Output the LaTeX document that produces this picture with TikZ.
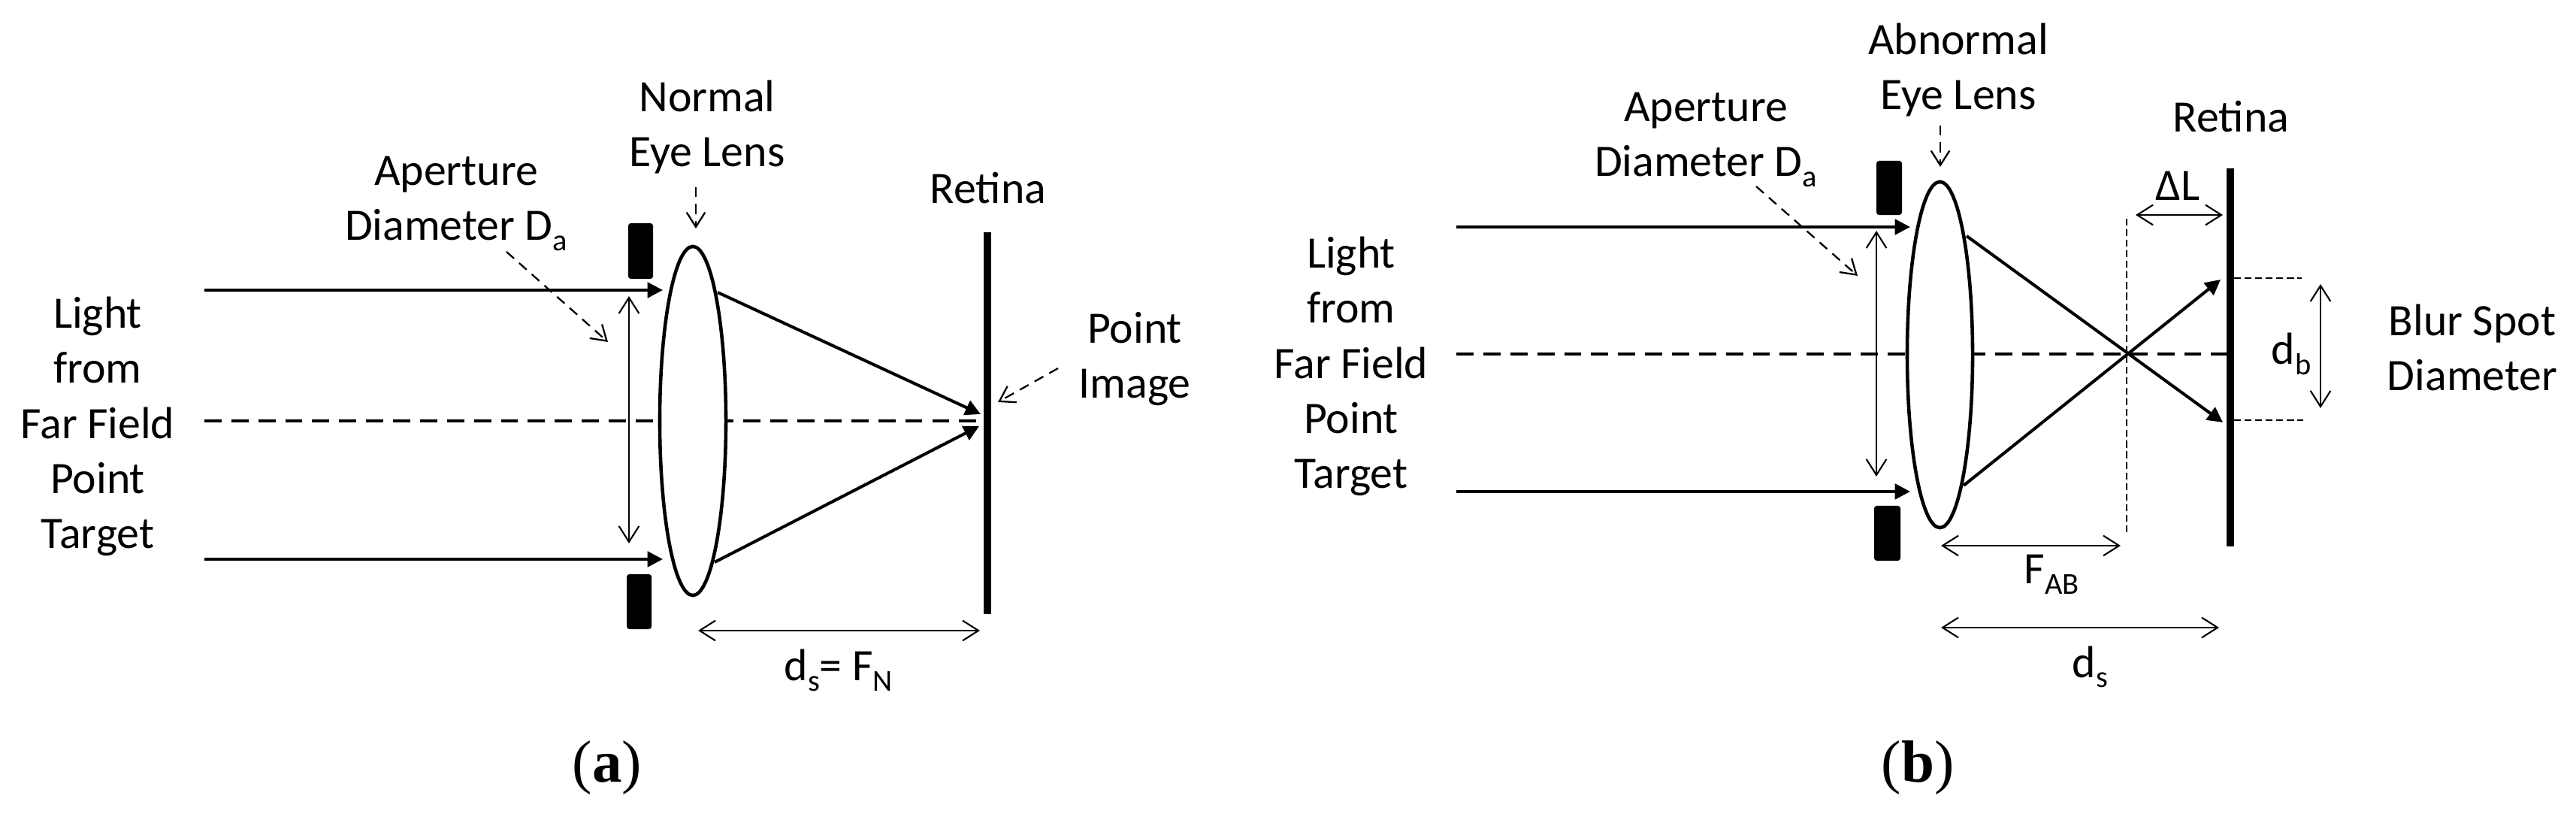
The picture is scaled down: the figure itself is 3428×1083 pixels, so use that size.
\documentclass[tikz,border=0pt]{standalone}
\usepackage{fontspec}
\setmainfont{Carlito}
\newfontfamily\capfont{Liberation Serif}
\usetikzlibrary{arrows.meta,shapes.geometric}
\newcommand\lsub[1]{\raisebox{-0.22em}{\fontsize{11.5pt}{12pt}\selectfont #1}}
\begin{document}
\begin{tikzpicture}[x=0.01cm,y=-0.01cm,
  lbl/.style={font=\fontsize{17pt}{20.9pt}\selectfont, inner sep=0pt, align=center},
  caplbl/.style={font=\capfont\fontsize{22.5pt}{26pt}\selectfont, inner sep=0pt},
  ray/.style={line width=1.15pt, -{Triangle[length=5.8pt,width=5.8pt]}},
  dim/.style={line width=0.6pt, {Straight Barb[length=6pt,width=7.6pt]}-{Straight Barb[length=6pt,width=7.6pt]}},
  pointer/.style={line width=0.65pt, dash pattern=on 3.8pt off 2.6pt, -{Straight Barb[length=5.5pt,width=7pt]}},
  axis/.style={line width=1pt, dash pattern=on 6.5pt off 3.7pt},
  guide/.style={line width=0.6pt, dash pattern=on 2.6pt off 1.4pt},
  retina/.style={line width=2.6pt},
  stopbox/.style={fill=black, rounded corners=1pt, inner sep=0pt},
  lens/.style={draw, ellipse, fill=white, line width=1.3pt, inner sep=0pt},
]
\useasboundingbox (0,0) rectangle (3428,1083);

% ================= (a) =================
\coordinate (aAxL) at (272,560);
\coordinate (aAxR) at (1310,560);
\draw[axis] (aAxL) -- (aAxR);
\node[lens, minimum width=0.88cm, minimum height=4.64cm] (aLens) at (922,560) {};
\coordinate (aRetT) at (1314,309);
\coordinate (aRetB) at (1314,817);
\draw[retina] (aRetT) -- (aRetB);
\node[stopbox, minimum width=0.33cm, minimum height=0.74cm] (aStopT) at (852.5,334) {};
\node[stopbox, minimum width=0.33cm, minimum height=0.73cm] (aStopB) at (850.5,800.5) {};
% incoming rays
\coordinate (aInT) at (272,386);  \coordinate (aHitT) at (882,386);
\coordinate (aInB) at (272,744);  \coordinate (aHitB) at (882,744);
\draw[ray] (aInT) -- (aHitT);
\draw[ray] (aInB) -- (aHitB);
% refracted rays
\coordinate (aOutT) at (955,389);  \coordinate (aFocT) at (1305,551);
\coordinate (aOutB) at (951,748);  \coordinate (aFocB) at (1303,567);
\draw[ray] (aOutT) -- (aFocT);
\draw[ray] (aOutB) -- (aFocB);
% dimensions
\coordinate (aDaT) at (837,394); \coordinate (aDaB) at (837,723);
\draw[dim] (aDaT) -- (aDaB);
\coordinate (aDsL) at (929,839); \coordinate (aDsR) at (1304,839);
\draw[dim] (aDsL) -- (aDsR);
% pointers
\coordinate (aP1s) at (674,335); \coordinate (aP1e) at (809,455);
\draw[pointer] (aP1s) -- (aP1e);
\coordinate (aP2s) at (926,249); \coordinate (aP2e) at (926,304);
\draw[pointer] (aP2s) -- (aP2e);
\coordinate (aP3s) at (1408,490); \coordinate (aP3e) at (1328,535);
\draw[pointer] (aP3s) -- (aP3e);
% texts (anchor=base = baseline of last line)
\node[lbl, anchor=base] (aLight) at (130,730) {Light\\from\\Far Field\\Point\\Target};
\node[lbl, anchor=base] (aLensLbl) at (941,222) {Normal\\Eye Lens};
\node[lbl, anchor=base] (aApLbl) at (607,320) {Aperture\\Diameter D\lsub{a}};
\node[lbl, anchor=base] (aRetLbl) at (1315,271) {Retina};
\node[lbl, anchor=base] (aPtLbl) at (1510,530) {Point\\Image};
\node[lbl, anchor=base west] (aDsLbl) at (1043,906) {d\lsub{s}= F\lsub{N}};
\node[caplbl, anchor=base] (aCap) at (808,1040) {(\textbf{a})};

% ================= (b) =================
\coordinate (bAxL) at (1938,471);
\coordinate (bAxR) at (2964,471);
\draw[axis] (bAxL) -- (bAxR);
\coordinate (bGdT) at (2830,291); \coordinate (bGdB) at (2830,712);
\draw[guide] (bGdT) -- (bGdB);
\node[lens, minimum width=0.87cm, minimum height=4.60cm] (bLens) at (2581.5,472) {};
\coordinate (bRetT) at (2968,224);
\coordinate (bRetB) at (2968,727);
\draw[retina] (bRetT) -- (bRetB);
\node[stopbox, minimum width=0.34cm, minimum height=0.72cm] (bStopT) at (2514,250) {};
\node[stopbox, minimum width=0.35cm, minimum height=0.73cm] (bStopB) at (2511.5,709.5) {};
% incoming rays
\coordinate (bInT) at (1938,302);  \coordinate (bHitT) at (2542,302);
\coordinate (bInB) at (1938,654);  \coordinate (bHitB) at (2542,654);
\draw[ray] (bInT) -- (bHitT);
\draw[ray] (bInB) -- (bHitB);
% refracted rays crossing before retina
\coordinate (bOutT) at (2617,314);  \coordinate (bEndT) at (2958,562);
\coordinate (bOutB) at (2613,646);  \coordinate (bEndB) at (2955,372);
\draw[ray] (bOutT) -- (bEndT);
\draw[ray] (bOutB) -- (bEndB);
% blur spot guides
\coordinate (bSpT1) at (2973,370); \coordinate (bSpT2) at (3063,370);
\coordinate (bSpB1) at (2973,559); \coordinate (bSpB2) at (3065,559);
\draw[guide] (bSpT1) -- (bSpT2);
\draw[guide] (bSpB1) -- (bSpB2);
% dimensions
\coordinate (bDaT) at (2497,307); \coordinate (bDaB) at (2497,634);
\draw[dim] (bDaT) -- (bDaB);
\coordinate (bDLl) at (2842,286); \coordinate (bDLr) at (2958,286);
\draw[dim] (bDLl) -- (bDLr);
\coordinate (bDbT) at (3088,378); \coordinate (bDbB) at (3088,543);
\draw[dim] (bDbT) -- (bDbB);
\coordinate (bFL) at (2583,726); \coordinate (bFR) at (2822,726);
\draw[dim] (bFL) -- (bFR);
\coordinate (bDsL) at (2583,835); \coordinate (bDsR) at (2953,835);
\draw[dim] (bDsL) -- (bDsR);
% pointers
\coordinate (bP1s) at (2337,248); \coordinate (bP1e) at (2472,367);
\draw[pointer] (bP1s) -- (bP1e);
\coordinate (bP2s) at (2582,167); \coordinate (bP2e) at (2582,222);
\draw[pointer] (bP2s) -- (bP2e);
% texts
\node[lbl, anchor=base] (bLight) at (1798,650) {Light\\from\\Far Field\\Point\\Target};
\node[lbl, anchor=base] (bLensLbl) at (2606,146) {Abnormal\\Eye Lens};
\node[lbl, anchor=base] (bApLbl) at (2270,235) {Aperture\\Diameter D\lsub{a}};
\node[lbl, anchor=base] (bRetLbl) at (2969,176) {Retina};
\node[lbl, anchor=base] (bDLLbl) at (2898,267) {ΔL};
\node[lbl, anchor=base west] (bDbLbl) at (3022,485) {d\lsub{b}};
\node[lbl, anchor=base] (bBlurLbl) at (3290,520) {Blur Spot\\Diameter};
\node[lbl, anchor=base west] (bFLbl) at (2693,777) {F\lsub{AB}};
\node[lbl, anchor=base west] (bDsLbl) at (2757,901) {d\lsub{s}};
\node[caplbl, anchor=base] (bCap) at (2552,1040) {(\textbf{b})};
\end{tikzpicture}
\end{document}
